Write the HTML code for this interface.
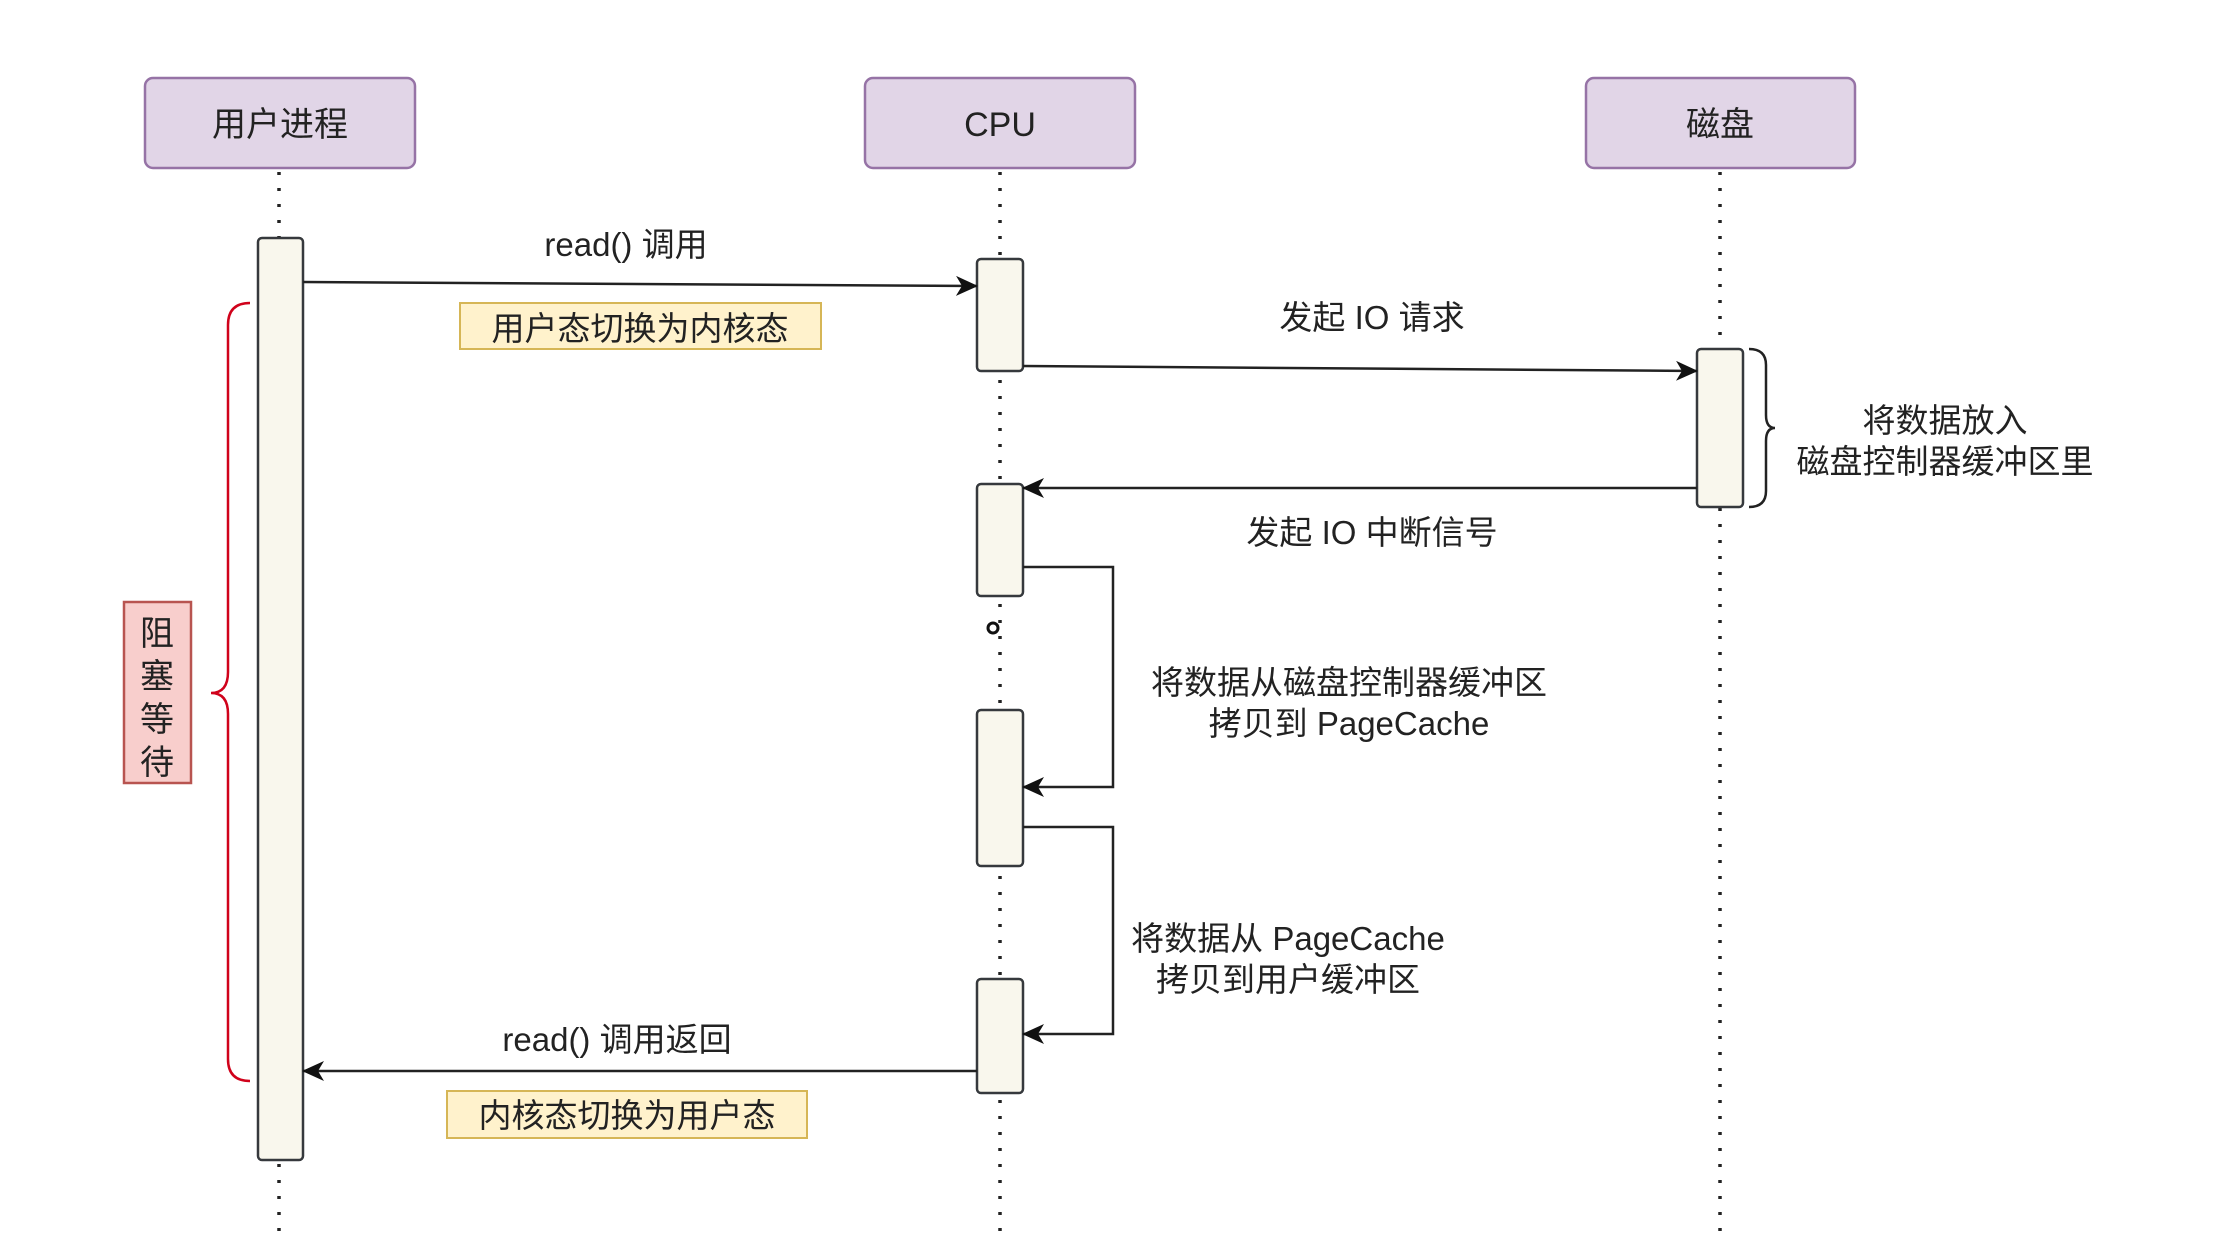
<!DOCTYPE html>
<html><head><meta charset="utf-8"><style>
html,body{margin:0;padding:0;background:#fff;}
svg{display:block;}
text{font-family:"Liberation Sans","Noto Sans CJK SC",sans-serif;fill:#222;}
</style></head><body>
<svg width="2231" height="1233" viewBox="0 0 2231 1233" xmlns="http://www.w3.org/2000/svg">
<defs>
<marker id="ah" markerWidth="22" markerHeight="20" refX="21" refY="10" orient="auto" markerUnits="userSpaceOnUse">
<path d="M0,0 L22,10 L0,20 L6,10 Z" fill="#111"/>
</marker>
</defs>
<g stroke="#222" stroke-width="3.5" stroke-dasharray="3 13">
<line x1="279" y1="172" x2="279" y2="1233"/>
<line x1="1000" y1="172" x2="1000" y2="1233"/>
<line x1="1720" y1="172" x2="1720" y2="1233"/>
</g>
<g fill="#e1d5e7" stroke="#9673a6" stroke-width="2.5">
<rect x="145" y="78" width="270" height="90" rx="8"/>
<rect x="865" y="78" width="270" height="90" rx="8"/>
<rect x="1586" y="78" width="269" height="90" rx="8"/>
</g>
<g font-size="34" text-anchor="middle">
<text x="280" y="136">用户进程</text>
<text x="1000" y="136">CPU</text>
<text x="1720" y="136">磁盘</text>
</g>
<g fill="#f9f7ed" stroke="#36393d" stroke-width="2.5">
<rect x="258" y="238" width="45" height="922" rx="4"/>
<rect x="977" y="259" width="46" height="112" rx="4"/>
<rect x="1697" y="349" width="46" height="158" rx="4"/>
<rect x="977" y="484" width="46" height="112" rx="4"/>
<rect x="977" y="710" width="46" height="156" rx="4"/>
<rect x="977" y="979" width="46" height="114" rx="4"/>
</g>
<g stroke="#222" stroke-width="2.5" fill="none" marker-end="url(#ah)">
<line x1="303" y1="282" x2="977" y2="286"/>
<line x1="1023" y1="366" x2="1697" y2="371"/>
<line x1="1697" y1="488" x2="1023" y2="488"/>
<polyline points="1023,567 1113,567 1113,787 1023,787"/>
<polyline points="1023,827 1113,827 1113,1034 1023,1034"/>
<line x1="977" y1="1071" x2="303" y2="1071"/>
</g>
<g fill="#fff2cc" stroke="#d6b656" stroke-width="2">
<rect x="460" y="303" width="361" height="46"/>
<rect x="447" y="1091" width="360" height="47"/>
</g>
<g font-size="33" text-anchor="middle">
<text x="626" y="256">read() 调用</text>
<text x="640" y="340">用户态切换为内核态</text>
<text x="1372" y="329">发起 IO 请求</text>
<text x="1945" y="432">将数据放入</text>
<text x="1945" y="473">磁盘控制器缓冲区里</text>
<text x="1372" y="544">发起 IO 中断信号</text>
<text x="1349" y="694">将数据从磁盘控制器缓冲区</text>
<text x="1349" y="735">拷贝到 PageCache</text>
<text x="1288" y="950">将数据从 PageCache</text>
<text x="1288" y="991">拷贝到用户缓冲区</text>
<text x="617" y="1051">read() 调用返回</text>
<text x="627" y="1127">内核态切换为用户态</text>
</g>
<path d="M1749,349 Q1766,349 1766,365 L1766,415 Q1766,428 1775,428 Q1766,428 1766,441 L1766,491 Q1766,507 1749,507" fill="none" stroke="#222" stroke-width="2.5"/>
<path d="M250,303 Q228,303 228,325 L228,672 Q228,693 211,693 Q228,693 228,714 L228,1059 Q228,1081 250,1081" fill="none" stroke="#d0021b" stroke-width="2.5"/>
<rect x="124" y="602" width="67" height="181" fill="#f8cecc" stroke="#b85450" stroke-width="2.5"/>
<g font-size="34" text-anchor="middle">
<text x="157" y="645">阻</text>
<text x="157" y="688">塞</text>
<text x="157" y="731">等</text>
<text x="157" y="774">待</text>
</g>
<circle cx="993" cy="628" r="5" fill="none" stroke="#111" stroke-width="3"/>
</svg>
</body></html>
